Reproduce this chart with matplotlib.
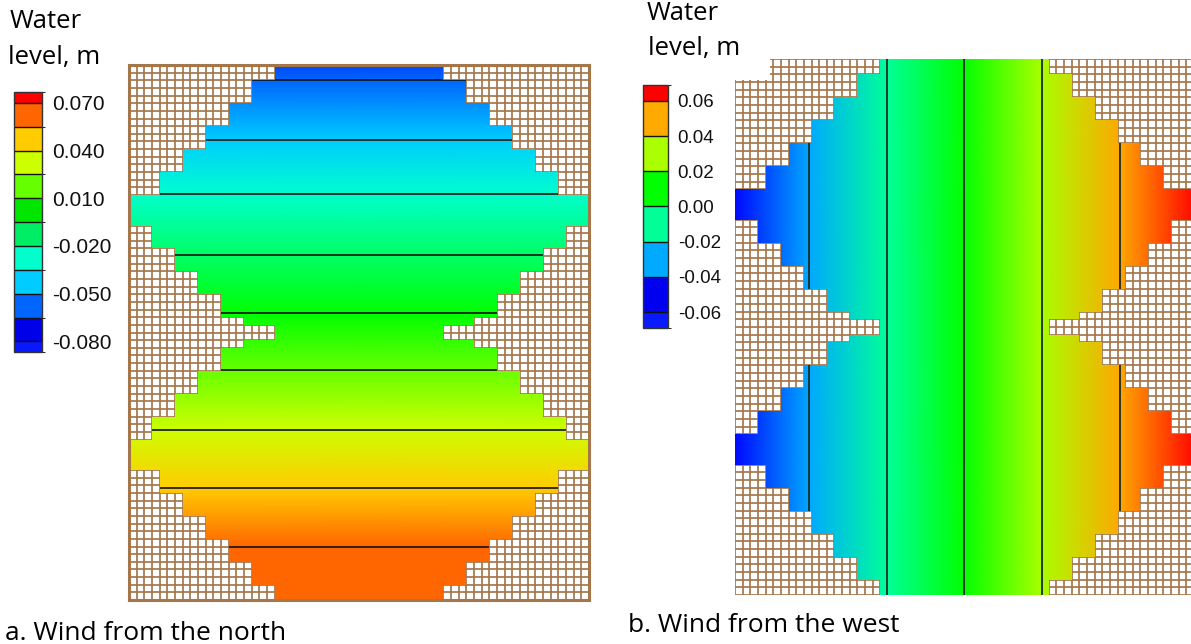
import numpy as np
import matplotlib
matplotlib.use("Agg")
import matplotlib.pyplot as plt
from matplotlib.colors import LinearSegmentedColormap, ListedColormap, BoundaryNorm, Normalize
from matplotlib.patches import Polygon, Rectangle
from matplotlib.cm import ScalarMappable

# ---------------- data ----------------
n_cols = 60
n_rows = 70
# basin outline: rows of each band and number of land cells on each side
band_start_rows = [0, 2, 5, 8, 11, 14, 17, 21, 24, 27, 30, 33, 34, 36, 37, 40, 43, 46, 49, 53, 56, 59, 62, 65, 68]
band_end_rows = [2, 5, 8, 11, 14, 17, 21, 24, 27, 30, 33, 34, 36, 37, 40, 43, 46, 49, 53, 56, 59, 62, 65, 68, 70]
band_land_cells = [19, 16, 13, 10, 7, 4, 0, 3, 6, 9, 12, 15, 19, 15, 12, 9, 6, 3, 0, 4, 7, 10, 13, 16, 19]

# panel a (wind from the north): water level (m) read at rows
a_rows = [0, 1.9, 9.8, 16.9, 24.8, 32.5, 39.9, 47.7, 55.3, 63.0, 70]
a_level = [-0.069, -0.065, -0.05, -0.035, -0.02, -0.005, 0.01, 0.025, 0.04, 0.055, 0.069]
a_contours = [-0.065, -0.05, -0.035, -0.02, -0.005, 0.01, 0.025, 0.04, 0.055]
a_anchor_levels = [-0.08, -0.065, -0.05, -0.035, -0.02, -0.005, 0.01, 0.025, 0.04, 0.055, 0.07]
a_anchor_colors = ['#0000e8', '#0066ff', '#00ccff', '#00ffcc', '#00ff66', '#00ff00',
                   '#66ff00', '#ccff00', '#ffcc00', '#ff6600', '#ff6600']
a_cbar_bounds = [-0.0867, -0.08, -0.065, -0.05, -0.035, -0.02, -0.005, 0.01, 0.025, 0.04, 0.055, 0.07, 0.0769]
a_cbar_colors = ['#0818ff', '#0000e8', '#0066ff', '#00ccff', '#00ffcc', '#00ee66',
                 '#00e600', '#66ff00', '#ccff00', '#ffcc00', '#ff6600', '#ff0000']
a_cbar_ticks = [-0.08, -0.05, -0.02, 0.01, 0.04, 0.07]
a_cbar_labels = ['-0.080', '-0.050', '-0.020', '0.010', '0.040', '0.070']

# panel b (wind from the west): water level (m) read at columns
b_cols = [0, 9.7, 19.9, 29.9, 40.1, 50.3, 60]
b_level = [-0.059, -0.04, -0.02, 0.0, 0.02, 0.04, 0.059]
b_contours = [-0.04, -0.02, 0.0, 0.02, 0.04]
b_anchor_levels = [-0.06, -0.04, -0.02, 0.0, 0.02, 0.04, 0.06]
b_anchor_colors = ['#0000ff', '#00aaff', '#00ff99', '#00ff00', '#aaff00', '#ffaa00', '#ff0000']
b_cbar_bounds = [-0.069, -0.06, -0.04, -0.02, 0.0, 0.02, 0.04, 0.06, 0.069]
b_cbar_colors = ['#0a1aff', '#0000f0', '#00aaff', '#00ff99', '#00ff00', '#aaff00', '#ffaa00', '#ff0000']
b_cbar_ticks = [-0.06, -0.04, -0.02, 0.0, 0.02, 0.04, 0.06]
b_cbar_labels = ['-0.06', '-0.04', '-0.02', '0.00', '0.02', '0.04', '0.06']

# ---------------- styling ----------------
W, H = 1191, 644
BROWN = '#a57649'
GRID_LW = 1.25
TXT_FONT = ['Open Sans', 'DejaVu Sans']
NUM_FONT = ['Liberation Sans', 'DejaVu Sans']

fig = plt.figure(figsize=(W / 100, H / 100), dpi=100)
fig.patch.set_facecolor('white')


def fig_rect(x0, y0, x1, y1):
    return [x0 / W, 1 - y1 / H, (x1 - x0) / W, (y1 - y0) / H]


def make_cmap(levels, colors):
    lo, hi = levels[0], levels[-1]
    pos = [(v - lo) / (hi - lo) for v in levels]
    return LinearSegmentedColormap.from_list('wl', list(zip(pos, colors))), Normalize(lo, hi)


def water_outline():
    left = []
    right = []
    for r0, r1, k in zip(band_start_rows, band_end_rows, band_land_cells):
        left += [(k, r0), (k, r1)]
        right += [(n_cols - k, r0), (n_cols - k, r1)]
    return left + right[::-1]


def draw_basin(ax):
    ax.set_xlim(0, n_cols)
    ax.set_ylim(n_rows, 0)
    ax.set_xticks([])
    ax.set_yticks([])
    ax.vlines(np.arange(n_cols + 1), 0, n_rows, color=BROWN, lw=GRID_LW, zorder=1)
    ax.hlines(np.arange(n_rows + 1), 0, n_cols, color=BROWN, lw=GRID_LW, zorder=1)
    patch = Polygon(water_outline(), closed=True, fill=False, lw=0)
    ax.add_patch(patch)
    return patch


# ---------------- panel a ----------------
axA = fig.add_axes(fig_rect(129, 65, 589, 600))
clipA = draw_basin(axA)
cmapA, normA = make_cmap(a_anchor_levels, a_anchor_colors)
XA = np.array([[0, n_cols]] * len(a_rows), dtype=float)
YA = np.array([[r, r] for r in a_rows], dtype=float)
CA = np.array([[v, v] for v in a_level])
mA = axA.pcolormesh(XA, YA, CA, cmap=cmapA, norm=normA, shading='gouraud', zorder=2)
mA.set_clip_path(clipA)
csA = axA.contour(XA, YA, CA, levels=a_contours, colors='#111111', linewidths=1.2,
                  linestyles='solid', negative_linestyles='solid', zorder=3)
csA.set_clip_path(clipA)
for s in axA.spines.values():
    s.set_color(BROWN)
    s.set_linewidth(2.2)

# ---------------- panel b ----------------
axB = fig.add_axes(fig_rect(735, 59, 1194, 595))
clipB = draw_basin(axB)
cmapB, normB = make_cmap(b_anchor_levels, b_anchor_colors)
XB = np.array([b_cols, b_cols], dtype=float)
YB = np.array([[0] * len(b_cols), [n_rows] * len(b_cols)], dtype=float)
CB = np.array([b_level, b_level])
mB = axB.pcolormesh(XB, YB, CB, cmap=cmapB, norm=normB, shading='gouraud', zorder=2)
mB.set_clip_path(clipB)
csB = axB.contour(XB, YB, CB, levels=b_contours, colors='#1c2c28', linewidths=1.3,
                  linestyles='solid', negative_linestyles='solid', zorder=3)
csB.set_clip_path(clipB)
for s in axB.spines.values():
    s.set_visible(False)
axB.add_patch(Rectangle((0, 0), 4.6, 2.75, facecolor='white', edgecolor='none', zorder=5))


# ---------------- colorbars ----------------
def draw_cbar(rect, bounds, colors, ticks, labels, fsize):
    cax = fig.add_axes(rect)
    cmap = ListedColormap(colors)
    norm = BoundaryNorm(bounds, cmap.N)
    cb = fig.colorbar(ScalarMappable(norm=norm, cmap=cmap), cax=cax, boundaries=bounds,
                      spacing='proportional', drawedges=True, ticks=ticks)
    cb.set_ticklabels(labels)
    cb.outline.set_edgecolor('#333333')
    cb.outline.set_linewidth(1.0)
    cb.dividers.set_color('#111111')
    cb.dividers.set_linewidth(1.0)
    cax.tick_params(length=0, pad=7)
    for t in cax.get_yticklabels():
        t.set_fontfamily(NUM_FONT)
        t.set_fontsize(fsize)
        t.set_color('#111111')
    return cb


draw_cbar(fig_rect(14, 92, 42, 352), a_cbar_bounds, a_cbar_colors, a_cbar_ticks, a_cbar_labels, 15)
draw_cbar(fig_rect(643, 85, 668, 328), b_cbar_bounds, b_cbar_colors, b_cbar_ticks, b_cbar_labels, 13.5)

# ---------------- texts ----------------
def ftext(x, y, s, size):
    fig.text(x / W, 1 - y / H, s, fontsize=size, family=TXT_FONT, ha='left', va='baseline', color='black')


ftext(10, 28, 'Water', 18.5)
ftext(8, 64, 'level, m', 18.5)
ftext(647, 20, 'Water', 18.5)
ftext(648, 55, 'level, m', 18.5)
ftext(5, 640, 'a. Wind from the north', 19)
ftext(628, 632, 'b. Wind from the west', 19)

fig.savefig('out.png', dpi=100, facecolor='white')
